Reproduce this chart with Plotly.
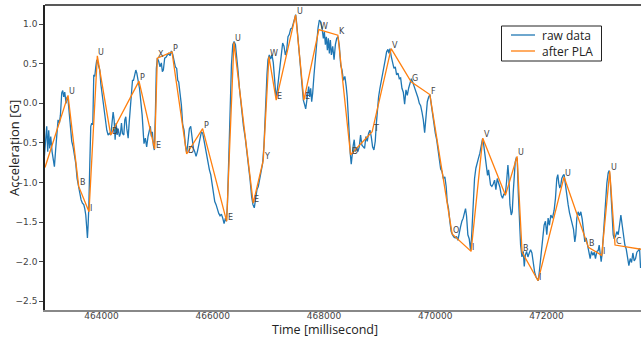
import plotly.graph_objects as go

# ---------------- data ----------------
raw_time = [
    462973, 462991, 463015, 463033, 463051, 463069, 463087, 463111, 463135, 463153,
    463177, 463201, 463219, 463243, 463261, 463285, 463303, 463321, 463339, 463363,
    463381, 463399, 463423, 463441, 463465, 463489, 463513, 463537, 463561, 463585,
    463609, 463633, 463657, 463681, 463699, 463717, 463735, 463747, 463759, 463771,
    463789, 463807, 463825, 463843, 463861, 463879, 463897, 463915, 463933, 463951,
    463969, 463987, 464005, 464023, 464047, 464071, 464095, 464119, 464143, 464167,
    464191, 464209, 464227, 464245, 464263, 464281, 464299, 464323, 464341, 464359,
    464377, 464401, 464419, 464437, 464455, 464479, 464497, 464515, 464539, 464557,
    464575, 464599, 464617, 464635, 464659, 464683, 464707, 464731, 464755,
    464764, 464788, 464812, 464836, 464860, 464878, 464896, 464914, 464932, 464950,
    464968, 464986, 465004, 465028, 465052, 465076, 465094, 465112, 465136, 465160,
    465184, 465208, 465232, 465256, 465280, 465304, 465328, 465352, 465370, 465388,
    465412, 465436, 465460, 465484, 465508, 465532, 465556, 465580, 465604, 465628,
    465652, 465676, 465700, 465724, 465748, 465772, 465796, 465820, 465844, 465868,
    465892, 465916, 465940, 465964, 465988, 466012, 466036, 466060, 466084, 466108,
    466132, 466156, 466180, 466204, 466228, 466246, 466264, 466288, 466312, 466336,
    466360, 466384, 466408, 466432, 466456, 466480, 466504, 466528, 466552,
    466585, 466609, 466639, 466669, 466699, 466723, 466747, 466771, 466795, 466819,
    466843, 466873, 466897, 466921, 466939, 466957, 466975, 466993, 467017, 467041,
    467065, 467089, 467113, 467137, 467161, 467185, 467209, 467233, 467257, 467281,
    467305, 467329, 467353, 467377, 467401, 467425, 467449, 467473, 467491, 467509,
    467533, 467557, 467581, 467605, 467629, 467653, 467671, 467689, 467707, 467725,
    467743, 467761, 467779, 467797, 467821, 467845, 467869, 467893, 467917, 467941,
    467965, 467989, 468007, 468025, 468043, 468061, 468079, 468097, 468115, 468133,
    468157, 468181, 468205, 468229, 468253, 468277, 468301, 468325, 468349,
    468376, 468400, 468418, 468436, 468454, 468472, 468490, 468508, 468526, 468544,
    468562, 468586, 468610, 468634, 468658, 468682, 468706, 468730, 468754, 468778,
    468802, 468826, 468850, 468874, 468898, 468922, 468940, 468958, 468982, 469006,
    469030, 469054, 469078, 469102, 469126, 469150, 469168, 469186, 469210, 469234,
    469258, 469282, 469306, 469330, 469354, 469378, 469402, 469426, 469450, 469474,
    469498, 469522, 469546, 469570, 469594, 469618, 469642, 469666, 469690, 469714,
    469738, 469762, 469786, 469810, 469834, 469858, 469882, 469906, 469930, 469954,
    469978, 470002, 470026, 470050, 470074, 470098, 470122, 470146,
    470173, 470197, 470215, 470239, 470263, 470287, 470311, 470335, 470359, 470383,
    470407, 470431, 470455, 470479, 470503, 470527, 470545, 470563, 470587, 470611,
    470635, 470653, 470671, 470689, 470707, 470731, 470755, 470779, 470803, 470827,
    470851, 470869, 470887, 470905, 470923, 470941, 470959, 470977, 470995, 471019,
    471043, 471067, 471091, 471115, 471139, 471163, 471187, 471211, 471235, 471259,
    471283, 471307, 471325, 471343, 471367, 471385, 471403, 471421, 471439, 471457,
    471475, 471493, 471511, 471535, 471559, 471583, 471601, 471619, 471643, 471667,
    471691, 471715, 471739, 471763, 471787, 471811, 471835, 471853, 471871, 471895,
    471919, 471943,
    471958, 471982, 472006, 472030, 472054, 472078, 472108, 472138, 472162, 472186,
    472204, 472222, 472240, 472258, 472276, 472300, 472318, 472342, 472366, 472390,
    472414, 472438, 472462, 472486, 472510, 472528, 472546, 472570, 472594, 472618,
    472642, 472666, 472690, 472714, 472738, 472762, 472786, 472810, 472834, 472858,
    472882, 472906, 472930, 472948, 472966, 472984, 473002, 473020, 473038, 473062,
    473086, 473110, 473128, 473146, 473164, 473182, 473200, 473218, 473242, 473266,
    473290, 473314, 473338, 473362, 473386, 473410, 473434, 473458, 473482, 473506,
    473530, 473554, 473578, 473602, 473626, 473650, 473674, 473692,
]
raw_acc = [
    -0.67, -0.44, -0.29, -0.61, -0.34, -0.57, -0.42, -0.61, -0.74, -0.80,
    -0.57, -0.36, -0.21, -0.25, -0.15, 0.13, 0.16, 0.08, 0.14, 0.00,
    0.08, 0.04, -0.19, -0.38, -0.48, -0.55, -0.67, -0.76, -0.95, -1.05,
    -1.14, -1.22, -1.26, -1.28, -1.33, -1.41, -1.58, -1.70, -1.54, -1.33,
    -0.78, -0.29, -0.25, -0.27, 0.36, 0.34, 0.46, 0.55, 0.51, 0.44,
    0.42, 0.25, 0.15, 0.02, -0.06, -0.17, -0.34, -0.40, -0.38, -0.40,
    -0.27, -0.11, -0.21, -0.46, -0.25, -0.40, -0.32, -0.42, -0.38, -0.25,
    -0.38, -0.40, -0.21, -0.17, -0.32, -0.44, -0.25, -0.11, 0.15, 0.29,
    0.29, 0.36, 0.42, 0.38, 0.29, 0.19, 0.02, -0.15, -0.42,
    -0.51, -0.44, -0.55, -0.42, -0.34, -0.29, -0.42, -0.36, -0.53, -0.59,
    -0.15, 0.44, 0.57, 0.53, 0.46, 0.51, 0.40, 0.42, 0.57, 0.58,
    0.61, 0.63, 0.60, 0.66, 0.62, 0.51, 0.46, 0.44, 0.29, 0.27,
    0.15, -0.02, -0.27, -0.34, -0.53, -0.63, -0.48, -0.32, -0.29, -0.42,
    -0.57, -0.61, -0.67, -0.61, -0.51, -0.42, -0.36, -0.38, -0.48, -0.57,
    -0.67, -0.74, -0.84, -0.90, -1.03, -1.12, -1.24, -1.28, -1.35, -1.39,
    -1.42, -1.40, -1.45, -1.52, -1.45, -1.49, -1.28, -0.65, -0.02, 0.48,
    0.74, 0.78, 0.74, 0.59, 0.40, 0.19, 0.02, -0.15, -0.29,
    -0.44, -0.57, -0.74, -0.95, -1.18, -1.28, -1.32, -1.20, -1.09, -1.05,
    -0.95, -0.86, -0.76, -0.53, -0.19, 0.11, 0.36, 0.55, 0.61, 0.56,
    0.61, 0.51, 0.25, 0.08, 0.17, 0.34, 0.48, 0.61, 0.76, 0.72,
    0.61, 0.67, 0.84, 0.87, 0.94, 0.95, 1.01, 1.06, 1.12, 1.01,
    0.82, 0.63, 0.40, 0.19, 0.04, -0.02, -0.07, 0.02, 0.13, 0.21,
    0.08, 0.19, 0.02, 0.13, 0.36, 0.57, 0.74, 0.95, 1.05, 1.03,
    0.95, 0.82, 0.90, 0.74, 0.84, 0.67, 0.82, 0.63, 0.80, 0.61,
    0.72, 0.55, 0.74, 0.82, 0.84, 0.72, 0.48, 0.42, 0.29,
    0.34, 0.21, 0.08, -0.15, -0.44, -0.63, -0.77, -0.63, -0.53, -0.46,
    -0.61, -0.57, -0.61, -0.55, -0.40, -0.53, -0.55, -0.57, -0.42, -0.48,
    -0.38, -0.34, -0.42, -0.55, -0.59, -0.48, -0.27, -0.11, 0.08, 0.19,
    0.27, 0.35, 0.44, 0.55, 0.65, 0.68, 0.63, 0.69, 0.59, 0.49,
    0.44, 0.46, 0.36, 0.38, 0.31, 0.32, 0.19, 0.14, -0.01, 0.17,
    0.10, 0.19, 0.24, 0.31, 0.27, 0.22, 0.18, 0.13, 0.07, 0.00,
    -0.03, -0.11, -0.21, -0.37, -0.15, 0.02, 0.08, 0.11, -0.02, -0.15,
    -0.28, -0.38, -0.46, -0.57, -0.73, -0.83, -0.86, -0.95,
    -0.93, -1.05, -1.24, -1.33, -1.49, -1.62, -1.66, -1.69, -1.70, -1.68,
    -1.73, -1.63, -1.56, -1.49, -1.45, -1.38, -1.33, -1.42, -1.66, -1.71,
    -1.85, -1.70, -1.41, -1.12, -0.95, -0.82, -0.73, -0.69, -0.63, -0.53,
    -0.45, -0.51, -0.61, -0.76, -0.86, -0.91, -0.84, -0.99, -1.03, -1.05,
    -1.02, -0.97, -1.09, -0.95, -1.00, -1.06, -1.16, -1.20, -1.14, -1.16,
    -0.99, -0.78, -0.95, -1.28, -1.41, -1.37, -1.12, -0.83, -0.74, -0.69,
    -0.70, -1.12, -1.45, -1.79, -1.94, -1.87, -2.06, -1.92, -1.87, -1.94,
    -1.89, -1.85, -1.89, -2.04, -2.13, -2.19, -2.23, -2.24, -2.13, -1.94,
    -1.79, -1.66,
    -1.54, -1.49, -1.66, -1.45, -1.54, -1.41, -1.45, -1.35, -1.20, -0.95,
    -0.90, -1.01, -1.07, -1.03, -0.95, -0.91, -0.90, -1.03, -1.20, -1.28,
    -1.38, -1.45, -1.49, -1.59, -1.75, -1.66, -1.45, -1.37, -1.42, -1.37,
    -1.46, -1.66, -1.75, -1.70, -1.80, -1.87, -1.96, -1.87, -1.92, -1.88,
    -1.96, -1.87, -1.86, -1.79, -1.94, -2.00, -1.89, -1.70, -1.49, -1.22,
    -1.01, -0.88, -0.85, -0.95, -1.16, -1.45, -1.66, -1.71, -1.68, -1.62,
    -1.66, -1.54, -1.41, -1.54, -1.66, -1.79, -1.84, -1.96, -2.05, -1.96,
    -2.01, -1.89, -1.99, -1.96, -1.88, -1.86, -1.83, -2.08,
]

pla_time = [462984, 463398, 463590, 463775, 463925, 464165, 464674, 464956, 465003,
            465267, 465531, 465818, 466250, 466381, 466728, 466908, 467010, 467141,
            467490, 467639, 467908, 468250, 468478, 468866, 469208, 469567, 469903,
            470304, 470645, 470855, 471263, 471472, 471562, 471849, 472317, 472755,
            472994, 473138, 473233, 473760]
pla_acc = [-0.81, 0.10, -1.05, -1.37, 0.60, -0.40, 0.28, -0.58, 0.57,
           0.65, -0.64, -0.32, -1.49, 0.77, -1.26, -0.72, 0.59, 0.04,
           1.115, 0.04, 0.93, 0.86, -0.65, -0.36, 0.69, 0.27, 0.11,
           -1.65, -1.87, -0.44, -1.16, -0.67, -1.88, -2.24, -0.93, -1.82,
           -1.92, -0.86, -1.79, -1.85]
pla_labels = ["", "U", "B", "I", "U", "D", "P", "E", "X",
              "P", "D", "P", "E", "U", "E", "Y", "W", "E",
              "U", "E", "W", "K", "D", "T", "V", "G", "F",
              "O", "I", "V", "", "U", "B", "I", "U", "B",
              "I", "U", "C", ""]

series_names = ["raw data", "after PLA"]
series_colors = ["#1f77b4", "#ff7f0e"]
x_ticks = [464000, 466000, 468000, 470000, 472000]
y_ticks = [-2.5, -2.0, -1.5, -1.0, -0.5, 0.0, 0.5, 1.0]

assert len(raw_time) == len(raw_acc)
assert len(pla_time) == len(pla_acc) == len(pla_labels)

# ---------------- figure ----------------
FONT = "DejaVu Sans"
TFONT = "Open Sans"
L, T, W, H = 45, 5, 596, 305          # plot area in pixels


def px(xp):
    return (xp - L) / W


def py(yp):
    return (T + H - yp) / H


fig = go.Figure()
fig.add_trace(go.Scatter(x=raw_time, y=raw_acc, mode="lines", name=series_names[0],
                         line=dict(color=series_colors[0], width=1.3), showlegend=False))
fig.add_trace(go.Scatter(x=pla_time, y=pla_acc, mode="lines", name=series_names[1],
                         line=dict(color=series_colors[1], width=1.3), showlegend=False))

for t, a, lab in zip(pla_time, pla_acc, pla_labels):
    if lab:
        fig.add_annotation(x=t, y=a, text=lab, showarrow=False, xanchor="left",
                           yanchor="bottom", yshift=-3, xshift=-1,
                           font=dict(family=FONT, size=8, color="#444444"))

# axis titles
fig.add_annotation(xref="paper", yref="paper", x=px(324.5), y=py(329),
                   xanchor="center", yanchor="middle",
                   text="Time [millisecond]", showarrow=False,
                   font=dict(family=TFONT, size=12.5, color="#222222"))
fig.add_annotation(xref="paper", yref="paper", x=px(14), y=py(148),
                   xanchor="center", yanchor="middle",
                   text="Acceleration [G]", showarrow=False, textangle=-90,
                   font=dict(family=TFONT, size=13, color="#222222"))

# top spine
fig.add_shape(type="line", xref="paper", yref="paper", x0=0, x1=1, y0=1, y1=1,
              line=dict(color="#222222", width=1.5))

# legend box (drawn to match the reference's compact legend)
fig.add_shape(type="rect", xref="paper", yref="paper", x0=px(501.5), x1=px(601.5),
              y0=py(61), y1=py(26), line=dict(color="#222222", width=1), fillcolor="white",
              layer="above")
for i, (nm, col) in enumerate(zip(series_names, series_colors)):
    yy = 35 + 16 * i
    fig.add_shape(type="line", xref="paper", yref="paper", x0=px(511), x1=px(535),
                  y0=py(yy), y1=py(yy), line=dict(color=col, width=1.3), layer="above")
    fig.add_annotation(xref="paper", yref="paper", x=px(540), y=py(yy), text=nm,
                       showarrow=False, xanchor="left", yanchor="middle",
                       font=dict(family=TFONT, size=12, color="#222222"))

fig.update_layout(
    width=641, height=340,
    margin=dict(l=L, r=0, t=T, b=340 - T - H),
    paper_bgcolor="white", plot_bgcolor="white",
    showlegend=False,
    xaxis=dict(range=[462984, 473700], tickvals=x_ticks, ticktext=[str(v) for v in x_ticks],
               showgrid=False, zeroline=False, showline=True, linecolor="#888888",
               linewidth=2, ticks="", ticklabelstandoff=-4,
               tickfont=dict(family=FONT, size=9, color="#444444")),
    yaxis=dict(range=[-2.61, 1.241], tickvals=y_ticks, tickformat=".1f",
               showgrid=False, zeroline=False, showline=True, linecolor="#222222",
               linewidth=1.5, ticks="outside", ticklen=4, tickcolor="#444444",
               tickfont=dict(family=FONT, size=9, color="#444444")),
)

fig.write_html("out.html")
